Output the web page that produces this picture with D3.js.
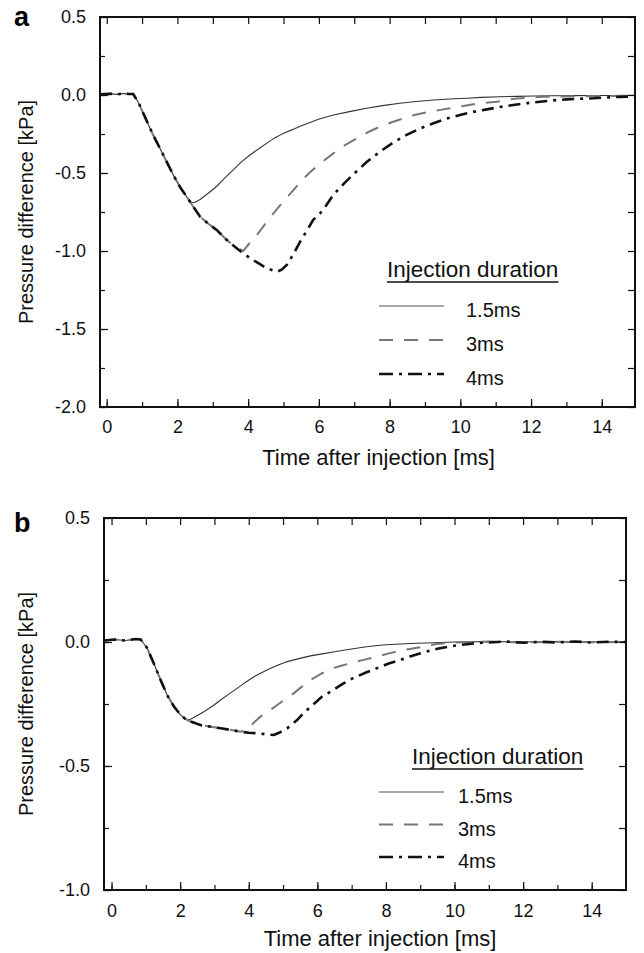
<!DOCTYPE html>
<html>
<head>
<meta charset="utf-8">
<script src="https://cdn.jsdelivr.net/npm/d3@7"></script>
<style>
body { margin: 0; background: #fff; }
svg { display: block; font-family: "Liberation Sans", Arial, sans-serif; }
.tick text { font-size: 18px; fill: #111; }
.domain { display: none; }
.tick line { stroke: #111; stroke-width: 1.2; }
</style>
</head>
<body>
<div id="chart"></div>
<script>
var svgWidth = 644;
var svgHeight = 953;

// series names, shared by both panels
var seriesNames = ["1.5ms", "3ms", "4ms"];

// x tick labels (ms) and y tick labels (kPa)
var xMajorTicks = [0, 2, 4, 6, 8, 10, 12, 14];
var yTicksA = [0.5, 0.0, -0.5, -1.0, -1.5, -2.0];
var yTicksB = [0.5, 0.0, -0.5, -1.0];

// ---- panel a: [time ms, pressure kPa] ----
var aOnset = [[-0.19, 0.005], [0.1, 0.008], [0.3, 0.004], [0.45, 0.01], [0.6, 0.007], [0.75, 0.006],
  [0.9, -0.05], [1.1, -0.15], [1.3, -0.25], [1.5, -0.34], [1.7, -0.43], [1.9, -0.52], [2.1, -0.6], [2.3, -0.665]];

var a15 = [[2.4, -0.69], [2.5, -0.688], [2.64, -0.67], [2.9, -0.625], [3.11, -0.585], [3.35, -0.53],
  [3.58, -0.48], [3.8, -0.43], [4.05, -0.385], [4.3, -0.345], [4.52, -0.31], [4.75, -0.275],
  [4.99, -0.246], [5.25, -0.222], [5.47, -0.2], [5.75, -0.176], [5.99, -0.156], [6.41, -0.128],
  [6.9, -0.105], [7.35, -0.085], [7.8, -0.068], [8.29, -0.053], [8.75, -0.042], [9.24, -0.032],
  [9.7, -0.026], [10.18, -0.021], [10.6, -0.015], [11.12, -0.011], [11.6, -0.009], [12.06, -0.006],
  [12.6, -0.005], [13.2, -0.004], [13.8, -0.003], [14.4, -0.003], [14.94, -0.002]];

var a3 = [[2.4, -0.7], [2.64, -0.78], [2.9, -0.83], [3.11, -0.865], [3.35, -0.92], [3.58, -0.965],
  [3.86, -1.0], [4.0, -0.96], [4.24, -0.9], [4.47, -0.83], [4.71, -0.76], [5.0, -0.68], [5.28, -0.61],
  [5.5, -0.55], [5.75, -0.495], [6.03, -0.44], [6.41, -0.374], [6.75, -0.32], [7.07, -0.278],
  [7.4, -0.237], [7.73, -0.203], [8.06, -0.175], [8.39, -0.15], [8.7, -0.128], [9.05, -0.111],
  [9.4, -0.097], [9.71, -0.085], [10.05, -0.072], [10.37, -0.06], [10.7, -0.05], [11.03, -0.043],
  [11.3, -0.032], [11.6, -0.022], [12.0, -0.016], [12.35, -0.012], [12.8, -0.01], [13.3, -0.008],
  [13.8, -0.007], [14.3, -0.006], [14.94, -0.005]];

var a4 = [[2.4, -0.7], [2.64, -0.78], [2.9, -0.83], [3.11, -0.865], [3.35, -0.92], [3.58, -0.965],
  [3.8, -1.005], [4.05, -1.045], [4.3, -1.08], [4.52, -1.11], [4.7, -1.125], [4.81, -1.133],
  [4.95, -1.12], [5.09, -1.09], [5.28, -1.02], [5.47, -0.94], [5.66, -0.87], [5.84, -0.8],
  [6.03, -0.76], [6.2, -0.71], [6.41, -0.64], [6.7, -0.57], [6.97, -0.51], [7.35, -0.43],
  [7.73, -0.363], [8.1, -0.305], [8.48, -0.256], [8.86, -0.215], [9.24, -0.181], [9.6, -0.152],
  [9.99, -0.128], [10.37, -0.108], [10.75, -0.092], [11.12, -0.077], [11.5, -0.064], [11.9, -0.052],
  [12.25, -0.043], [12.6, -0.035], [13.0, -0.028], [13.4, -0.024], [13.76, -0.021], [14.2, -0.015],
  [14.5, -0.012], [14.94, -0.01]];

// ---- panel b ----
var bOnset = [[-0.22, 0.006], [0.1, 0.01], [0.4, 0.006], [0.7, 0.012], [0.85, 0.01], [1.04, -0.025],
  [1.23, -0.086], [1.43, -0.153], [1.62, -0.214], [1.82, -0.26], [2.01, -0.294], [2.15, -0.31]];

var b15 = [[2.25, -0.315], [2.45, -0.3], [2.69, -0.281], [2.95, -0.258], [3.18, -0.234], [3.42, -0.21],
  [3.66, -0.187], [3.9, -0.163], [4.15, -0.14], [4.4, -0.122], [4.64, -0.106], [4.88, -0.092],
  [5.12, -0.079], [5.49, -0.066], [5.8, -0.056], [6.14, -0.048], [6.46, -0.04], [6.9, -0.03],
  [7.43, -0.019], [7.9, -0.012], [8.41, -0.008], [8.9, -0.005], [9.38, -0.003], [10, 0], [11, 0.002],
  [12, 0], [13, 0.002], [14, 0], [15, 0.002]];

var b3 = [[2.25, -0.318], [2.59, -0.335], [2.9, -0.342], [3.18, -0.348], [3.5, -0.355], [3.76, -0.362],
  [3.95, -0.355], [4.15, -0.325], [4.34, -0.301], [4.6, -0.277], [4.83, -0.254], [5.07, -0.23],
  [5.31, -0.207], [5.55, -0.18], [5.8, -0.153], [6.14, -0.126], [6.46, -0.105], [6.7, -0.096],
  [6.95, -0.086], [7.35, -0.072], [7.73, -0.059], [8.06, -0.047], [8.41, -0.035], [8.7, -0.028],
  [8.99, -0.021], [9.48, -0.008], [10, -0.002], [11, 0.002], [12, -0.002], [13, 0.001], [14, -0.001], [15, 0]];

var b4 = [[2.25, -0.318], [2.59, -0.335], [2.9, -0.342], [3.18, -0.348], [3.5, -0.355], [3.76, -0.362],
  [4.0, -0.366], [4.25, -0.368], [4.5, -0.372], [4.73, -0.375], [4.9, -0.365], [5.12, -0.348],
  [5.41, -0.315], [5.59, -0.288], [5.8, -0.262], [5.98, -0.24], [6.14, -0.22], [6.46, -0.194],
  [6.75, -0.168], [7.04, -0.146], [7.4, -0.124], [7.73, -0.106], [8.06, -0.088], [8.41, -0.073],
  [8.7, -0.058], [8.99, -0.046], [9.27, -0.035], [9.57, -0.025], [9.86, -0.018], [10.15, -0.012],
  [10.6, -0.005], [11.0, -0.002], [11.5, 0.002], [12, -0.003], [12.5, 0.001], [13, -0.002],
  [13.5, 0.002], [14, -0.002], [14.5, 0.001], [15, 0]];

// line styles per series
var styles = [
  { color: "#333", width: 1.1, dash: null },
  { color: "#777", width: 2, dash: "14,11" },
  { color: "#111", width: 2.6, dash: "12,6,3,6" }
];

var svg = d3.select("#chart")
  .append("svg")
  .attr("width", svgWidth)
  .attr("height", svgHeight);

function drawPanel(p) {
  var x = d3.scaleLinear().domain(p.xDomain).range([p.left, p.right]);
  var y = d3.scaleLinear().domain(p.yDomain).range([p.bottom, p.top]);
  var g = svg.append("g");

  // curves
  var line = d3.line().x(d => x(d[0])).y(d => y(d[1]));
  p.series.forEach(function(s, i) {
    g.append("path")
      .datum(p.onset.concat(s))
      .attr("d", line)
      .attr("fill", "none")
      .attr("stroke", styles[i].color)
      .attr("stroke-width", styles[i].width)
      .attr("stroke-dasharray", styles[i].dash);
  });

  // minor ticks
  g.append("g").attr("transform", `translate(0,${p.bottom})`)
    .call(d3.axisBottom(x).tickValues(d3.range(0, 15)).tickSize(-5).tickFormat(""));
  g.append("g").attr("transform", `translate(0,${p.top})`)
    .call(d3.axisTop(x).tickValues(d3.range(0, 15)).tickSize(-7).tickFormat(""));
  g.append("g").attr("transform", `translate(${p.left},0)`)
    .call(d3.axisLeft(y).tickValues(d3.range(p.yDomain[0], p.yDomain[1] + 0.01, 0.25)).tickSize(-5).tickFormat(""));
  g.append("g").attr("transform", `translate(${p.right},0)`)
    .call(d3.axisRight(y).tickValues(d3.range(p.yDomain[0], p.yDomain[1] + 0.01, 0.25)).tickSize(-7).tickFormat(""));

  // major ticks with labels
  g.append("g").attr("transform", `translate(0,${p.bottom})`)
    .call(d3.axisBottom(x).tickValues(xMajorTicks).tickSize(-8).tickPadding(p.xPad).tickFormat(d => d));
  g.append("g").attr("transform", `translate(${p.left},0)`)
    .call(d3.axisLeft(y).tickValues(p.yTicks).tickSize(-8).tickPadding(14).tickFormat(d => d.toFixed(1)));

  // frame
  g.append("rect")
    .attr("x", p.left).attr("y", p.top)
    .attr("width", p.right - p.left).attr("height", p.bottom - p.top)
    .attr("fill", "none").attr("stroke", "#111").attr("stroke-width", 2);

  // axis labels
  g.append("text")
    .attr("x", (p.left + p.right) / 2 + p.xLabelShift)
    .attr("y", p.xLabelY)
    .attr("text-anchor", "middle")
    .attr("font-size", 22)
    .attr("fill", "#111")
    .text("Time after injection [ms]");

  g.append("text")
    .attr("transform", `translate(33,${(p.top + p.bottom) / 2}) rotate(-90)`)
    .attr("text-anchor", "middle")
    .attr("font-size", 20)
    .attr("fill", "#111")
    .text("Pressure difference [kPa]");

  // panel letter
  g.append("text")
    .attr("x", 14).attr("y", p.letterY)
    .attr("font-size", 27).attr("font-weight", "bold")
    .text(p.letter);

  // legend
  var title = g.append("text")
    .attr("x", p.legTitleX).attr("y", p.legTitleY)
    .attr("font-size", 22.5).attr("fill", "#111")
    .text("Injection duration");
  var tw = title.node().getComputedTextLength();
  g.append("line")
    .attr("x1", p.legTitleX).attr("x2", p.legTitleX + tw)
    .attr("y1", p.legTitleY + 5).attr("y2", p.legTitleY + 5)
    .attr("stroke", "#111").attr("stroke-width", 1.6);

  seriesNames.forEach(function(name, i) {
    var ly = p.legLineY + i * p.legStep;
    g.append("line")
      .attr("x1", 379).attr("x2", 444)
      .attr("y1", ly).attr("y2", ly)
      .attr("stroke", i === 0 ? "#555" : styles[i].color)
      .attr("stroke-width", i === 0 ? 1.2 : styles[i].width)
      .attr("stroke-dasharray", i === 2 ? "14,6,3,6" : styles[i].dash);
    g.append("text")
      .attr("x", p.legTextX).attr("y", ly + 11)
      .attr("font-size", 20).attr("fill", "#111")
      .text(name);
  });
}

drawPanel({
  letter: "a", letterY: 26,
  left: 100, right: 635, top: 17, bottom: 407,
  xDomain: [-0.19, 14.94], yDomain: [-2.0, 0.5], yTicks: yTicksA,
  xPad: 13, xLabelY: 465, xLabelShift: 11,
  onset: aOnset, series: [a15, a3, a4],
  legTitleX: 387, legTitleY: 277, legLineY: 306, legStep: 34, legTextX: 466
});

drawPanel({
  letter: "b", letterY: 532,
  left: 104, right: 626, top: 518, bottom: 890,
  xDomain: [-0.22, 15.0], yDomain: [-1.0, 0.5], yTicks: yTicksB,
  xPad: 14, xLabelY: 946, xLabelShift: 15,
  onset: bOnset, series: [b15, b3, b4],
  legTitleX: 412, legTitleY: 764, legLineY: 792, legStep: 32.5, legTextX: 458
});
</script>
</body>
</html>
